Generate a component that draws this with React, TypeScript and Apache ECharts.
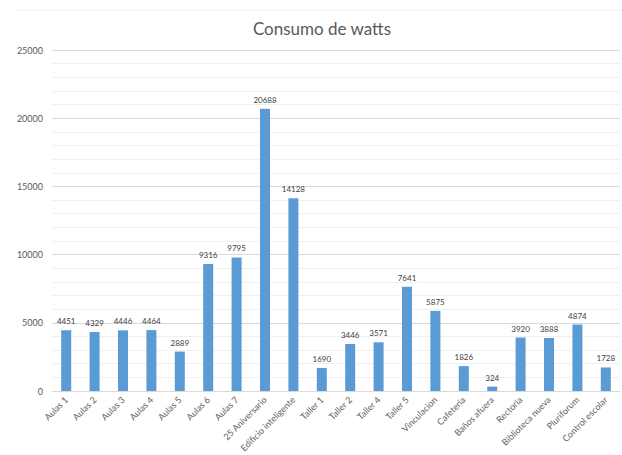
import React, { useEffect, useRef } from "react";
import * as echarts from "echarts";

const categories = [
  "Aulas 1", "Aulas 2", "Aulas 3", "Aulas 4", "Aulas 5", "Aulas 6", "Aulas 7",
  "25 Aniversario", "Edificio inteligente", "Taller 1", "Taller 2", "Taller 4",
  "Taller 5", "Vinculacion", "Cafeteria", "Baños afuera", "Rectoria",
  "Biblioteca nueva", "Pluriforum", "Control escolar",
];
const watts = [
  4451, 4329, 4446, 4464, 2889, 9316, 9795, 20688, 14128, 1690, 3446, 3571,
  7641, 5875, 1826, 324, 3920, 3888, 4874, 1728,
];
const yMin = 0;
const yMax = 25000;
const yStep = 5000;

const FONT = "Lato, 'Open Sans', sans-serif";

export default function App() {
  const ref = useRef<HTMLDivElement>(null);
  useEffect(() => {
    if (!ref.current) return;
    const chart = echarts.init(ref.current, undefined, { renderer: "svg" });
    chart.setOption({
      animation: false,
      backgroundColor: "#ffffff",
      graphic: [
        {
          type: "line",
          shape: { x1: 16, y1: 10, x2: 622, y2: 10 },
          style: { stroke: "#eeeeee", lineWidth: 1 },
        },
        {
          type: "text",
          x: 322,
          y: 28,
          style: {
            text: "Consumo de watts",
            fontFamily: FONT,
            fontSize: 17,
            fill: "#595959",
            align: "center",
            verticalAlign: "middle",
          },
        },
      ],
      grid: { left: 52, right: 2, top: 50, bottom: 64, containLabel: false },
      xAxis: {
        type: "category",
        data: categories,
        axisLine: { lineStyle: { color: "#d9d9d9", width: 1 } },
        axisTick: { show: false },
        axisLabel: {
          rotate: 45,
          interval: 0,
          margin: 7,
          fontFamily: FONT,
          fontSize: 9,
          color: "#606060",
        },
      },
      yAxis: {
        type: "value",
        min: yMin,
        max: yMax,
        interval: yStep,
        axisLine: { show: false },
        axisTick: { show: false },
        axisLabel: {
          margin: 9,
          fontFamily: FONT,
          fontSize: 9,
          color: "#595959",
          formatter: (v: number) => String(v),
        },
        splitLine: { lineStyle: { color: "#d9d9d9", width: 1 } },
        minorTick: { show: false, splitNumber: 5 },
        minorSplitLine: { show: true, lineStyle: { color: "#f0f0f0", width: 1 } },
      },
      series: [
        {
          type: "bar",
          data: watts,
          barWidth: 10,
          itemStyle: { color: "#5b9bd5" },
          label: {
            show: true,
            position: "top",
            distance: 5,
            fontFamily: FONT,
            fontSize: 8,
            color: "#404040",
          },
        },
      ],
    });
    return () => chart.dispose();
  }, []);
  return (
    <div
      ref={ref}
      style={{ position: "absolute", left: 0, top: 0, width: 622, height: 455 }}
    />
  );
}
